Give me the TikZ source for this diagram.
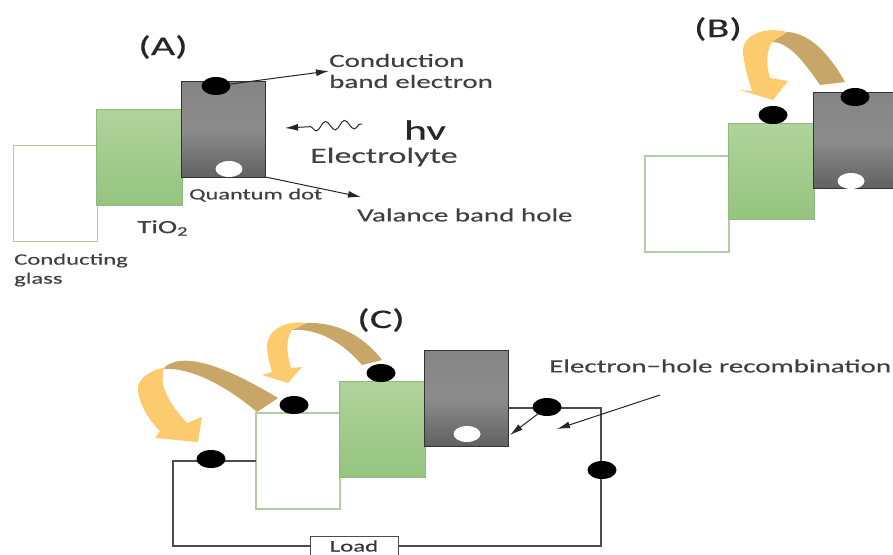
\documentclass[tikz,border=0pt]{standalone}
\usepackage{fontspec}
\setmainfont[FakeStretch=1.55,FakeBold=0.3]{Carlito}
\usetikzlibrary{arrows.meta,decorations.pathmorphing,positioning,shapes.geometric}
\definecolor{tanarrow}{HTML}{C8A667}
\definecolor{yellowarrow}{HTML}{FBCB6E}
\definecolor{glassedge}{HTML}{B2CDA4}
\definecolor{tioedge}{HTML}{8FB97E}
\definecolor{tiotop}{HTML}{B0D39C}
\definecolor{tiobottom}{HTML}{94C47F}

\begin{document}
\begin{tikzpicture}[
  x=1pt, y=-1pt,
  >={Latex[length=13pt,width=7pt]},
  labeltext/.style={text=black!75, inner sep=0pt, font=\fontsize{18.7}{21}\selectfont, align=left},
  paneltext/.style={text=black!85, inner sep=0pt, font=\fontsize{27}{30}\selectfont},
  layer/.style={minimum height=96pt, inner sep=0pt, outer sep=0pt},
  glassbox/.style={layer, draw=glassedge, line width=1.5pt, fill=white, minimum width=84pt},
  tiobox/.style={layer, draw=tioedge, line width=.8pt, top color=tiotop, bottom color=tiobottom, minimum width=86pt},
  dotbox/.style={layer, draw=black!80, line width=1pt, top color=black!48, bottom color=black!62, middle color=black!45, minimum width=84pt},
  electron/.style={ellipse, fill=black, minimum width=29pt, minimum height=18pt, inner sep=0pt},
  hole/.style={ellipse, fill=white, minimum width=27pt, minimum height=16pt, inner sep=0pt},
  line/.style={->, black!85, line width=1pt},
  wire/.style={black!70, line width=1.2pt},
  loadbox/.style={draw=black!70, fill=white, line width=1pt, minimum width=88pt, minimum height=20pt, inner sep=0pt, font=\fontsize{16}{18}\selectfont, text=black!80}
]
  \useasboundingbox (0,0) rectangle (893,554);
  \clip (0,0) rectangle (893,554);

  % panel A
  \node[glassbox] (glassa) at (55.5,193.5) {};
  \node[tiobox, right=-1pt of glassa, yshift=36pt] (tioa) {};
  \node[dotbox, right=-1pt of tioa, yshift=28.5pt] (dota) {};
  \node[electron] (ea) at (216,86) {};
  \node[hole] (ha) at (229,169) {};

  \node[paneltext] (paneA) at (163,47) {(A)};
  \node[labeltext, anchor=west] (condlabel) at (329,71) {Conduction\\band electron};
  \node[paneltext, anchor=west, font=\fontsize{28}{30}\selectfont] (hvlabel) at (404,130) {hv};
  \node[labeltext, anchor=west, font=\fontsize{21.9}{24}\selectfont] (ellabel) at (310,157) {Electrolyte};
  \node[labeltext, anchor=west, font=\fontsize{15.7}{18}\selectfont] (qdlabel) at (189,195) {Quantum dot};
  \node[labeltext, anchor=west] (vblabel) at (357,215) {Valance band hole};
  \node[labeltext, anchor=west] (tiolabel) at (137,228) {TiO\textsubscript{2}};
  \node[labeltext, anchor=west, font=\fontsize{15.9}{19}\selectfont] (glasslabel) at (14,270) {Conducting\\glass};

  \coordinate (vbtip) at (361,197);
  \coordinate (wavestart) at (362,124);
  \coordinate (wavetip) at (285,128);
  \draw[line] (ea) -- (condlabel.west);
  \draw[line] (dota.south east) -- (vbtip);
  \draw[line, decorate, decoration={snake, amplitude=4.5pt, segment length=19pt, pre length=2pt, post length=17pt}] (wavestart) -- (wavetip);

  % panel B
  \node[glassbox] (glassb) at (687,204) {};
  \node[tiobox, right=-1pt of glassb, yshift=32.5pt] (tiob) {};
  \node[dotbox, right=-1pt of tiob, yshift=31.5pt] (dotb) {};
  \node[electron] (eb) at (773,115) {};
  \node[electron] (ebb) at (855,97) {};
  \node[hole] (hb) at (851,181) {};
  \node[paneltext] (paneB) at (718,29) {(B)};

  \fill[tanarrow] (845,82) .. controls (830,55) and (810,33) .. (787,32) -- (772,42) .. controls (790,42) and (806,65) .. (820,85) -- cycle;
  \fill[yellowarrow] (787,32) .. controls (765,26) and (742,35) .. (743,52) .. controls (744,65) and (748,78) .. (752,91) -- (740,90) -- (773,100) -- (788,81) -- (770,78) .. controls (766,65) and (766,52) .. (772,42) -- cycle;

  % panel C
  \node[glassbox] (glassc) at (298,461) {};
  \node[tiobox, right=-1pt of glassc, yshift=31.5pt] (tioc) {};
  \node[dotbox, right=-1pt of tioc, yshift=31.5pt] (dotc) {};
  \node[paneltext] (paneC) at (381,320) {(C)};
  \node[labeltext, anchor=west] (reclabel) at (549,366) {Electron{\textminus}hole recombination};
  \node[loadbox] (load) at (354,546) {Load};

  \coordinate (wirejoin) at (509,408);
  \coordinate (wirecorner) at (601,408);
  \coordinate (wireleft) at (173,461);
  \draw[wire] (wirejoin) -- (wirecorner) |- (load.east);
  \draw[wire] (glassc.west) -- (wireleft) |- (load.west);

  \node[electron] (ec) at (294,405) {};
  \node[electron] (ecc) at (381,373) {};
  \node[electron] (ew) at (211,459) {};
  \node[electron] (er) at (547,407) {};
  \node[electron] (ed) at (602,470) {};
  \node[hole] (hc) at (467,434) {};

  \coordinate (rectail) at (660,395);
  \coordinate (rectip) at (557,429);
  \coordinate (droptip) at (510,435);
  \draw[line] (er) -- (droptip);
  \draw[line] (rectail) -- (rectip);

  \fill[tanarrow] (382,360) .. controls (365,338) and (340,322) .. (307,323) -- (292,330) .. controls (320,328) and (345,345) .. (362,365) -- cycle;
  \fill[yellowarrow] (307,323) .. controls (285,320) and (268,330) .. (267,345) .. controls (267,355) and (270,365) .. (272,372) -- (262,375) -- (288,383) -- (302,367) -- (291,368) .. controls (287,355) and (285,340) .. (292,330) -- cycle;

  \fill[tanarrow] (278,398) .. controls (245,378) and (205,358) .. (180,361) .. controls (172,362) and (166,365) .. (163,369) .. controls (190,367) and (225,385) .. (257,412) -- cycle;
  \fill[yellowarrow] (163,368) .. controls (145,372) and (136,382) .. (138,392) .. controls (140,405) and (150,422) .. (160,431) -- (155,438) -- (198,442) -- (202,417) -- (187,423) .. controls (175,410) and (160,390) .. (163,375) -- cycle;
\end{tikzpicture}
\end{document}
